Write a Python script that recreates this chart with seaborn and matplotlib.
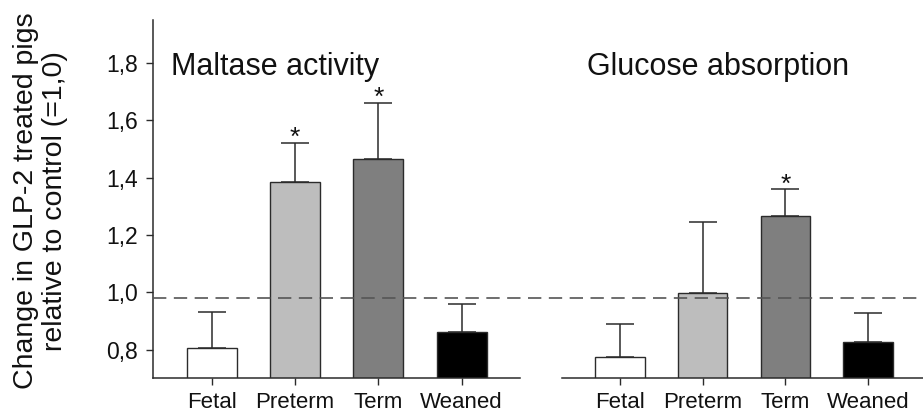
import numpy as np
import pandas as pd
import seaborn as sns
import matplotlib.pyplot as plt
from matplotlib import transforms
from matplotlib.lines import Line2D

# Groups and measured ratios (GLP-2 treated / control)
groups = ["Fetal", "Preterm", "Term", "Weaned"]
maltase_mean = [0.806, 1.384, 1.465, 0.863]
maltase_sem = [0.126, 0.138, 0.197, 0.095]
maltase_sig = [False, True, True, False]
glucose_mean = [0.774, 0.997, 1.265, 0.828]
glucose_sem = [0.115, 0.248, 0.094, 0.101]
glucose_sig = [False, False, True, False]
panel_titles = ["Maltase activity", "Glucose absorption"]
y_ticks = [0.8, 1.0, 1.2, 1.4, 1.6, 1.8]
y_ticklabels = ["0,8", "1,0", "1,2", "1,4", "1,6", "1,8"]
control_level = 0.98

bar_colors = ["#ffffff", "#bdbdbd", "#7f7f7f", "#000000"]

sns.set_theme(style="white")
plt.rcParams["font.family"] = ["Liberation Sans", "DejaVu Sans"]

W, H = 923, 418
fig = plt.figure(figsize=(W / 100, H / 100), dpi=100)
ax1 = fig.add_axes([153.3 / W, 1 - 378.3 / H, (520 - 153.3) / W, (378.3 - 20) / H])
ax2 = fig.add_axes([561.7 / W, 1 - 378.3 / H, (923 - 561.7) / W, (378.3 - 20) / H])

edge = "#2b2b2b"
txt = "#111111"
panels = [
    (ax1, maltase_mean, maltase_sem, maltase_sig, panel_titles[0], 275),
    (ax2, glucose_mean, glucose_sem, glucose_sig, panel_titles[1], 718),
]
for ax, mean, sem, sig, title, title_x in panels:
    ax.set_facecolor("none")
    df = pd.DataFrame({"group": groups, "value": mean})
    sns.barplot(data=df, x="group", y="value", hue="group", palette=bar_colors,
                order=groups, hue_order=groups, legend=False, width=0.6,
                edgecolor=edge, linewidth=1.0, errorbar=None, ax=ax, zorder=2)
    xs = np.arange(len(groups))
    ax.errorbar(xs, mean, yerr=[np.zeros(len(mean)), sem], fmt="none",
                ecolor=edge, elinewidth=1.1, capsize=10, capthick=1.1, zorder=1)
    for x, m, s, star in zip(xs, mean, sem, sig):
        if star:
            ax.text(x, m + s - 0.008, "*", ha="center", va="baseline",
                    fontsize=19, color=txt)
    ax.set_ylim(0.70, 1.95)
    ax.set_xlabel("")
    ax.set_ylabel("")
    for s in ["top", "right"]:
        ax.spines[s].set_visible(False)
    ax.spines["bottom"].set_color(edge)
    ax.spines["bottom"].set_linewidth(1.1)
    ax.tick_params(axis="x", bottom=True, length=5, width=1.0, color=edge,
                   labelsize=16, pad=5, labelcolor=txt)
    fig.text(title_x / W, 1 - 75 / H, title, ha="center", va="baseline",
             fontsize=22, color=txt)

ax1.set_xlim(-0.7, 3.7)
ax2.set_xlim(-0.7, 3.66)
ax1.set_yticks(y_ticks)
ax1.set_yticklabels(y_ticklabels)
ax1.spines["left"].set_color(edge)
ax1.spines["left"].set_linewidth(1.1)
ax1.tick_params(axis="y", left=True, length=5, width=1.0, color=edge,
                labelsize=16.5, pad=6, labelcolor=txt)
ax2.spines["left"].set_visible(False)
ax2.set_yticks([])

fig.text(40.5 / W, 1 - 201 / H,
         "Change in GLP-2 treated pigs\nrelative to control (=1,0)",
         rotation=90, ha="center", va="center", multialignment="center",
         fontsize=20.5, color=txt, linespacing=1.15)

# Dashed control reference running across both panels, above the bars
trans = transforms.blended_transform_factory(fig.transFigure, ax1.transData)
fig.add_artist(Line2D([153.3 / W, 1.0], [control_level, control_level],
                      transform=trans, color="#555555", lw=1.2,
                      dashes=(8, 4.5), zorder=5))

fig.savefig("out.png", dpi=100)
